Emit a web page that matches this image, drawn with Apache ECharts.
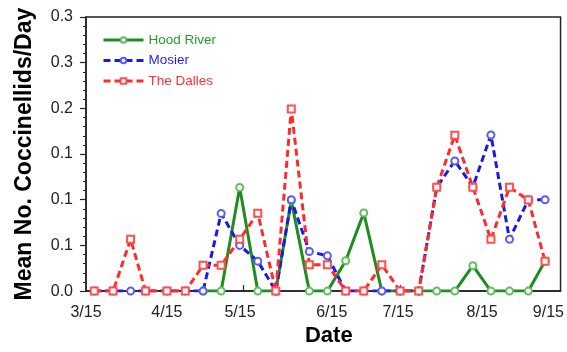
<!DOCTYPE html>
<html><head><meta charset="utf-8">
<script src="https://cdn.jsdelivr.net/npm/echarts@6/dist/echarts.min.js"></script>
<style>html,body{margin:0;padding:0;background:#fff}#c{width:567px;height:352px}</style>
</head><body><div id="c"></div>
<script>
// days after 3/15 of each sampling date
const sampleDays = [3.2,10.5,17.3,23.1,31.4,38.5,45.4,52.4,59.6,66.6,73.6,79.6,86.6,93.6,100.7,107.7,114.7,121.8,129,136,143,150,157,164.2,171.5,178];
const hoodRiver = [null,null,null,null,null,null,0,0,0.1135,0,0,0.099,0,0,0.0332,0.0856,0,0,0,0,0,0.0278,0,0,0,0.033];
const mosier = [0,0,0,0,0,0,0,0.085,0.050,0.0328,0,0.100,0.0433,0.0386,0,0,0,0,0,0.1137,0.1425,0.1140,0.1709,0.0567,0.1,0.1];
const theDalles = [0,0,0.0567,0,0,0,0.0282,0.0282,0.0567,0.0853,0,0.1993,0.0289,0.0289,0,0,0.0289,0,0,0.1137,0.1705,0.1137,0.0567,0.1137,0.0997,0.0326];
const xTickLabels = ['3/15','4/15','5/15','6/15','7/15','8/15','9/15'];
const xLabelDays = [0,31.35,59.7,95.3,121,153.6,179.3];
const xTickDays = [61,122];
const seriesNames = ['Hood River','Mosier','The Dalles'];

const FONT = 'Liberation Sans, Arial, sans-serif';
function pairs(vals){ const out=[]; vals.forEach((v,i)=>{ if(v!==null) out.push([sampleDays[i], v]); }); return out; }

const chart = echarts.init(document.getElementById('c'), null, {renderer:'canvas'});
chart.setOption({
  animation:false,
  grid:{left:86,right:2,top:17,bottom:58,show:true,borderColor:'#222',borderWidth:1.5,backgroundColor:'transparent'},
  legend:{
    orient:'vertical', left:102, top:33, padding:0, itemWidth:40, itemHeight:7, itemGap:6.5,
    textStyle:{fontFamily:FONT,fontSize:13.5},
    data:[
      {name:seriesNames[0],textStyle:{color:'#2a9a2a'},lineStyle:{width:3}},
      {name:seriesNames[1],textStyle:{color:'#1f1ff0'},lineStyle:{width:3}},
      {name:seriesNames[2],textStyle:{color:'#ff3030'},lineStyle:{width:3}}
    ]
  },
  xAxis:{
    type:'value', min:0, max:184,
    name:'Date', nameLocation:'middle', nameGap:31,
    nameTextStyle:{fontFamily:FONT,fontSize:22,fontWeight:'bold',color:'#000',padding:[0,0,0,11]},
    axisLine:{lineStyle:{color:'#222',width:1.5}},
    axisTick:{show:true,inside:true,length:6,customValues:xTickDays,lineStyle:{color:'#222',width:1.2}},
    axisLabel:{customValues:xLabelDays,margin:13,fontFamily:FONT,fontSize:16,color:'#222',
      formatter:function(v){const i=xLabelDays.indexOf(v);return i>=0?xTickLabels[i]:'';}},
    splitLine:{show:false}
  },
  yAxis:{
    type:'value', min:0, max:0.3, interval:0.05,
    name:'Mean No. Coccinellids/Day', nameLocation:'middle', nameGap:50,
    nameTextStyle:{fontFamily:FONT,fontSize:23,fontWeight:'bold',color:'#000'},
    axisLine:{show:true,lineStyle:{color:'#222',width:1.5}},
    axisTick:{show:true,inside:false,length:6,lineStyle:{color:'#222',width:1.2}},
    minorTick:{show:true,splitNumber:5,length:3,lineStyle:{color:'#222',width:1}},
    axisLabel:{margin:13,fontFamily:FONT,fontSize:16,color:'#222',formatter:function(v){return v.toFixed(1);}},
    splitLine:{show:false}
  },
  series:[
    {name:seriesNames[0],type:'line',data:pairs(hoodRiver),color:'#1e8c1e',
     symbol:'emptyCircle',symbolSize:7,
     lineStyle:{color:'#1e8c1e',width:3,type:'solid'},
     itemStyle:{color:'#5fbf5f',borderColor:'#5fbf5f',borderWidth:1}},
    {name:seriesNames[1],type:'line',data:pairs(mosier),color:'#1a1ae6',
     symbol:'emptyCircle',symbolSize:7,
     lineStyle:{color:'#1a1ae6',width:3,type:[7,4]},
     itemStyle:{color:'#5a5aff',borderColor:'#5a5aff',borderWidth:1}},
    {name:seriesNames[2],type:'line',data:pairs(theDalles),color:'#ff2a2a',
     symbol:'emptyRect',symbolSize:7,
     lineStyle:{color:'#ff2a2a',width:3,type:[7,4]},
     itemStyle:{color:'#ff5050',borderColor:'#ff5050',borderWidth:1}}
  ]
});
</script></body></html>
